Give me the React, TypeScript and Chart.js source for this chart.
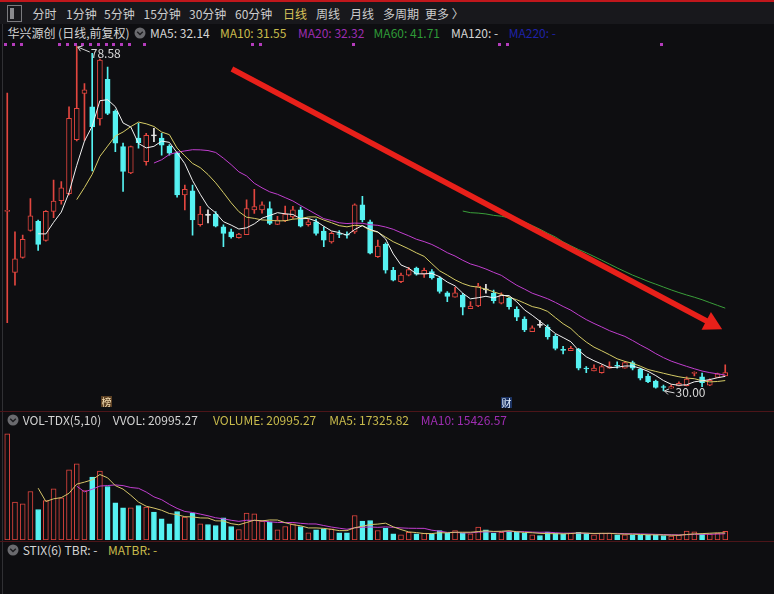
import React, { useEffect, useRef } from "react";
import { Chart, registerables } from "chart.js";

Chart.register(...registerables);

// ---------- data ----------
const OPEN = [
  55.3, 46.7, 48.8, 52.6, 53.9, 51.2, 55.3, 56.8, 57.8, 65.4,
  71.9, 70.0, 68.3, 73.9, 69.4, 64.4, 60.7, 65.6, 62.3, 66.0,
  65.6, 64.5, 63.5, 57.6, 58.2, 53.4, 54.8, 54.9, 53.1, 52.4,
  51.6, 52.0, 55.5, 55.5, 55.7, 53.45, 53.97, 54.5, 55.5, 53.4,
  53.8, 52.5, 51.0, 52.15, 52.05, 52.4, 56.2, 53.8, 48.9, 50.65,
  47.0, 45.4, 46.3, 47.3, 46.45, 46.8, 45.9, 43.8, 43.2, 43.5,
  41.6, 41.96, 44.3, 43.75, 42.35, 43.05, 41.5, 40.1, 38.35, 39.3,
  38.95, 37.7, 35.8, 35.65, 35.88, 33.2, 32.8, 32.58, 33.2, 33.6,
  33.2, 33.99, 33.06, 32.1, 31.4, 30.6, 30.4, 30.7, 30.75, 32.5,
  32.0, 30.8, 31.9, 32.1,
];
const HIGH = [
  71.96, 52.4, 51.96, 57.1, 54.07, 55.4, 59.7, 59.5, 70.03, 78.58,
  73.3, 77.55, 76.75, 75.6, 69.6, 64.9, 64.5, 67.7, 66.3, 67.0,
  66.3, 64.7, 63.65, 59.0, 59.0, 56.0, 55.5, 55.25, 53.4, 52.8,
  52.2, 56.9, 58.4, 56.65, 56.65, 54.6, 56.05, 56.0, 55.9, 54.2,
  54.2, 53.1, 52.4, 52.6, 52.4, 56.35, 57.4, 54.07, 51.25, 50.85,
  47.4, 46.6, 47.4, 47.45, 47.3, 47.1, 46.1, 43.98, 44.6, 43.75,
  42.57, 45.15, 45.0, 44.2, 43.8, 43.2, 41.86, 40.45, 39.15, 39.9,
  39.3, 37.98, 36.28, 36.28, 36.0, 33.43, 33.66, 33.66, 34.1, 34.1,
  34.13, 34.2, 33.2, 32.4, 31.54, 30.83, 30.84, 31.27, 31.98, 32.7,
  32.5, 31.7, 32.5, 33.66,
];
const LOW = [
  39.6, 44.9, 48.7, 52.5, 49.8, 51.1, 54.4, 56.3, 57.6, 65.2,
  65.3, 61.0, 67.45, 68.9, 63.7, 58.1, 60.6, 64.2, 61.8, 65.1,
  63.2, 63.2, 57.3, 55.5, 51.95, 53.2, 53.65, 53.1, 50.3, 51.5,
  51.5, 52.0, 55.0, 55.05, 53.4, 53.4, 53.84, 54.3, 53.1, 53.2,
  51.95, 50.3, 50.8, 51.6, 51.5, 52.2, 53.8, 49.3, 48.8, 46.6,
  45.5, 45.25, 46.2, 46.3, 46.0, 45.75, 43.75, 42.57, 43.2, 40.7,
  41.6, 41.86, 43.75, 42.35, 42.25, 41.5, 39.9, 38.35, 38.35, 38.95,
  37.27, 35.77, 35.2, 35.65, 32.96, 32.58, 32.8, 32.5, 33.2, 33.2,
  33.2, 32.96, 31.54, 31.17, 30.38, 30.0, 30.4, 30.7, 30.7, 32.1,
  30.6, 30.75, 31.9, 32.1,
];
const CLOSE = [
  55.4, 48.6, 51.36, 54.65, 50.65, 55.3, 56.75, 58.6, 68.4, 69.8,
  72.4, 67.2, 76.6, 69.1, 64.9, 60.9, 64.4, 64.96, 66.0, 66.0,
  64.6, 63.5, 57.6, 58.4, 54.1, 54.9, 54.8, 53.2, 52.2, 51.7,
  52.1, 55.7, 55.95, 56.2, 53.6, 54.07, 54.9, 55.5, 53.2, 53.8,
  52.2, 51.25, 52.2, 52.05, 51.95, 56.2, 54.07, 49.4, 50.4, 47.0,
  45.6, 46.3, 47.1, 46.45, 47.0, 45.9, 44.0, 43.3, 43.8, 41.8,
  41.96, 44.78, 44.3, 42.7, 43.5, 41.86, 40.4, 38.6, 38.9, 39.3,
  37.6, 36.0, 35.75, 36.0, 33.2, 33.1, 33.2, 33.43, 33.43, 33.5,
  33.99, 33.2, 31.8, 31.3, 30.5, 30.5, 30.6, 31.08, 31.65, 32.58,
  31.16, 31.5, 32.4, 32.58,
];
const VOLUME = [
  260000, 92600, 88700, 118800, 74700, 96800, 125400, 103400, 172000, 186700,
  121300, 153900, 168600, 131000, 91000, 78900, 78900, 84500, 80400, 68200,
  51900, 39600, 69800, 55900, 65700, 39600, 38000, 35500, 54300, 33000,
  25700, 65700, 64100, 46100, 43700, 24900, 33000, 39600, 33000, 17600,
  24900, 27400, 27400, 17600, 17600, 60000, 46100, 47800, 23300, 28900,
  15200, 12700, 19000, 15200, 16700, 15200, 23300, 16700, 23300, 16700,
  15200, 31400, 25000, 16700, 19000, 21600, 19000, 16700, 12700, 11000,
  19500, 16700, 15200, 16700, 19000, 16700, 12700, 16700, 16700, 12700,
  12700, 12700, 12700, 12700, 12700, 11000, 9500, 12000, 22000, 20000,
  14500, 14500, 16600, 20995.27,
];
const DAYS = OPEN.map((_, i) => `D${i + 1}`);

const PRICE_MIN = 27.31;
const PRICE_MAX = 79.43;
const VOL_MAX = 279300;
const MARKER_DAYS = [0, 1, 2, 7, 8, 9, 10, 11, 12, 13, 14, 15, 16, 18, 32, 33, 45, 64, 65, 85];
const TREND_FROM = [29.1, 75.34];
const TREND_TO = [92.6, 38.68];

const TOOLBAR = [
  { t: "分时", x: 32.5 },
  { t: "1分钟", x: 66 },
  { t: "5分钟", x: 104 },
  { t: "15分钟", x: 143.5 },
  { t: "30分钟", x: 189 },
  { t: "60分钟", x: 235 },
  { t: "日线", x: 283, on: true },
  { t: "周线", x: 316 },
  { t: "月线", x: 350 },
  { t: "多周期", x: 383 },
  { t: "更多 〉", x: 425 },
];

// ---------- styles ----------
const BG = "#0e0e11";
const UP = "#e2463f";
const DOWN = "#56f2f2";
const FLAT = "#ececec";
const FONT = '"Noto Sans CJK SC", "Microsoft YaHei", sans-serif';
const PAD = { left: 3.4, right: 44.9, top: 0, bottom: 0 };

function movingAverage(src: number[], n: number): (number | null)[] {
  return src.map((_, i) => {
    if (i < n - 1) return null;
    let s = 0;
    for (let k = i - n + 1; k <= i; k++) s += src[k];
    return s / n;
  });
}

function candleColor(i: number) {
  if (CLOSE[i] > OPEN[i]) return UP;
  if (CLOSE[i] < OPEN[i]) return DOWN;
  return FLAT;
}

const annotate = {
  id: "annotate",
  afterDatasetsDraw(chart: any) {
    const { ctx, chartArea, scales } = chart;
    const xs = scales.x;
    const ys = scales.y;
    ctx.save();
    // event markers
    ctx.fillStyle = "#b43cbc";
    MARKER_DAYS.forEach((d) => {
      ctx.fillRect(Math.round(xs.getPixelForValue(d)) - 3, chartArea.top + 3, 3, 3);
    });
    // highest / lowest labels
    let hi = 0;
    let lo = 0;
    HIGH.forEach((v, i) => { if (v > HIGH[hi]) hi = i; });
    LOW.forEach((v, i) => { if (v < LOW[lo]) lo = i; });
    ctx.strokeStyle = "#d8d8d8";
    ctx.fillStyle = "#d8d8d8";
    ctx.lineWidth = 1;
    ctx.font = `12px ${FONT}`;
    ctx.textBaseline = "middle";
    ctx.textAlign = "left";
    const drawPtr = (px: number, py: number, tx: number, ty: number) => {
      ctx.beginPath();
      ctx.moveTo(px, py);
      ctx.lineTo(tx, ty);
      ctx.stroke();
      const a = Math.atan2(ty - py, tx - px);
      ctx.beginPath();
      ctx.moveTo(px + 5 * Math.cos(a - 0.6), py + 5 * Math.sin(a - 0.6));
      ctx.lineTo(px, py);
      ctx.lineTo(px + 5 * Math.cos(a + 0.6), py + 5 * Math.sin(a + 0.6));
      ctx.stroke();
    };
    const hx = xs.getPixelForValue(hi);
    const hy = ys.getPixelForValue(HIGH[hi]);
    drawPtr(hx + 1, hy + 1, hx + 13, hy + 6);
    ctx.fillText(HIGH[hi].toFixed(2), hx + 14, hy + 7);
    const lx = xs.getPixelForValue(lo);
    const ly = ys.getPixelForValue(LOW[lo]);
    drawPtr(lx + 1, ly, lx + 11, ly + 2);
    ctx.fillText(LOW[lo].toFixed(2), lx + 12, ly + 2);
    // trend arrow
    const x1 = xs.getPixelForValue(TREND_FROM[0]);
    const y1 = ys.getPixelForValue(TREND_FROM[1]);
    const x2 = xs.getPixelForValue(TREND_TO[0]);
    const y2 = ys.getPixelForValue(TREND_TO[1]);
    const len = Math.hypot(x2 - x1, y2 - y1);
    const ux = (x2 - x1) / len;
    const uy = (y2 - y1) / len;
    const headL = 18;
    const headW = 10;
    const bx = x2 - ux * headL;
    const by = y2 - uy * headL;
    ctx.strokeStyle = "#e8201a";
    ctx.fillStyle = "#e8201a";
    ctx.lineWidth = 5.5;
    ctx.lineCap = "butt";
    ctx.beginPath();
    ctx.moveTo(x1, y1);
    ctx.lineTo(bx + ux * 2, by + uy * 2);
    ctx.stroke();
    ctx.beginPath();
    ctx.moveTo(x2, y2);
    ctx.lineTo(bx - uy * headW, by + ux * headW);
    ctx.lineTo(bx + uy * headW, by - ux * headW);
    ctx.closePath();
    ctx.fill();
    ctx.restore();
  },
};

function Txt({ x, y, c, children }: { x: number; y: number; c: string; children: any }) {
  return (
    <div
      style={{
        position: "absolute",
        left: x,
        top: y - 7,
        color: c,
        fontSize: 12,
        lineHeight: "14px",
        whiteSpace: "nowrap",
      }}
    >
      {children}
    </div>
  );
}

function Knob({ x, y }: { x: number; y: number }) {
  return (
    <svg style={{ position: "absolute", left: x, top: y - 6 }} width={12} height={12}>
      <circle cx={6} cy={6} r={5.5} fill="#6a6a6e" />
      <polyline points="3.2,4.8 6,7.6 8.8,4.8" fill="none" stroke="#1c1c1f" strokeWidth={1.4} />
    </svg>
  );
}

export default function App() {
  const priceRef = useRef<HTMLCanvasElement>(null);
  const volRef = useRef<HTMLCanvasElement>(null);

  useEffect(() => {
    const colors = DAYS.map((_, i) => candleColor(i));
    const bodies = DAYS.map((_, i) => {
      const o = OPEN[i];
      const c = CLOSE[i];
      if (Math.abs(c - o) < 0.12) {
        const m = (o + c) / 2;
        return [m - 0.07, m + 0.07];
      }
      return [o, c];
    });
    const wicks = DAYS.map((_, i) => [LOW[i], HIGH[i]]);
    const line = (label: string, data: (number | null)[], color: string) => ({
      type: "line" as const,
      label,
      data,
      borderColor: color,
      borderWidth: 1,
      pointRadius: 0,
      tension: 0,
      fill: false,
      order: 0,
    });

    const price = new Chart(priceRef.current!, {
      type: "bar",
      data: {
        labels: DAYS,
        datasets: [
          line("MA5", movingAverage(CLOSE, 5), "#f2f2f2"),
          line("MA10", movingAverage(CLOSE, 10), "#d6cc66"),
          line("MA20", movingAverage(CLOSE, 20), "#c23fd0"),
          line("MA60", movingAverage(CLOSE, 60), "#3a9f3a"),
          {
            type: "bar",
            label: "body",
            data: bodies as any,
            backgroundColor: colors.map((c) => (c === UP ? BG : c)),
            borderColor: colors,
            borderWidth: 1,
            borderSkipped: false,
            barThickness: 5,
            grouped: false,
            order: 1,
          } as any,
          {
            type: "bar",
            label: "wick",
            data: wicks as any,
            backgroundColor: colors,
            borderWidth: 0,
            barThickness: 1,
            grouped: false,
            order: 2,
          } as any,
        ],
      },
      options: {
        animation: false,
        responsive: false,
        devicePixelRatio: 1,
        events: [],
        layout: { padding: PAD },
        plugins: { legend: { display: false }, tooltip: { enabled: false } },
        scales: {
          x: { type: "category", offset: true, display: false, grid: { display: false } },
          y: { type: "linear", min: PRICE_MIN, max: PRICE_MAX, display: false },
        },
      },
      plugins: [annotate],
    });

    const volColors = DAYS.map((_, i) => (CLOSE[i] > OPEN[i] ? UP : DOWN));
    const vol = new Chart(volRef.current!, {
      type: "bar",
      data: {
        labels: DAYS,
        datasets: [
          line("VMA5", movingAverage(VOLUME, 5), "#d6c56a"),
          line("VMA10", movingAverage(VOLUME, 10), "#c23fd0"),
          {
            type: "bar",
            label: "VOLUME",
            data: VOLUME,
            backgroundColor: volColors.map((c) => (c === UP ? BG : c)),
            borderColor: volColors,
            borderWidth: 1,
            borderSkipped: false,
            barThickness: 5,
            grouped: false,
            order: 1,
          } as any,
        ],
      },
      options: {
        animation: false,
        responsive: false,
        devicePixelRatio: 1,
        events: [],
        layout: { padding: PAD },
        plugins: { legend: { display: false }, tooltip: { enabled: false } },
        scales: {
          x: { type: "category", offset: true, display: false, grid: { display: false } },
          y: { type: "linear", min: 0, max: VOL_MAX, display: false },
        },
      },
    });

    return () => {
      price.destroy();
      vol.destroy();
    };
  }, []);

  return (
    <div
      style={{
        position: "fixed",
        left: 0,
        top: 0,
        width: 774,
        height: 594,
        background: BG,
        overflow: "hidden",
        fontFamily: FONT,
      }}
    >
      {/* toolbar */}
      <div style={{ position: "absolute", left: 0, top: 0, width: 774, height: 24, background: "#18181c" }} />
      <div style={{ position: "absolute", left: 0, top: 0, width: 774, height: 2, background: "#c0171c" }} />
      <div
        style={{
          position: "absolute",
          left: 7,
          top: 5,
          width: 13,
          height: 15,
          border: "1px solid #7a7a7e",
        }}
      />
      <div style={{ position: "absolute", left: 10, top: 8, width: 4, height: 11, background: "#8a8a8e" }} />
      {TOOLBAR.map((b) => (
        <Txt key={b.t} x={b.x} y={13.5} c={b.on ? "#d9c25a" : "#cdcdcd"}>
          {b.t}
        </Txt>
      ))}

      {/* price header */}
      <Txt x={7.4} y={32.5} c="#d4d4d4">华兴源创 (日线,前复权)</Txt>
      <Knob x={134} y={32.5} />
      <Txt x={150} y={32.5} c="#d4d4d4">MA5: 32.14</Txt>
      <Txt x={220} y={32.5} c="#c9bb4c">MA10: 31.55</Txt>
      <Txt x={298} y={32.5} c="#9d2db0">MA20: 32.32</Txt>
      <Txt x={373.6} y={32.5} c="#2f9a38">MA60: 41.71</Txt>
      <Txt x={451} y={32.5} c="#d4d4d4">MA120: -</Txt>
      <Txt x={508.7} y={32.5} c="#1f22a8">MA220: -</Txt>

      {/* left frame line */}
      <div style={{ position: "absolute", left: 2, top: 24, width: 1, height: 570, background: "#303034" }} />

      <canvas
        ref={priceRef}
        width={774}
        height={370}
        style={{ position: "absolute", left: 0, top: 40, width: 774, height: 370 }}
      />

      {/* date tags */}
      <div
        style={{
          position: "absolute",
          left: 101,
          top: 396,
          width: 11,
          height: 11,
          background: "#5c4023",
          color: "#f3dcb0",
          fontSize: 10,
          lineHeight: "11px",
          textAlign: "center",
        }}
      >
        榜
      </div>
      <div
        style={{
          position: "absolute",
          left: 501,
          top: 397,
          width: 11,
          height: 11,
          background: "#1b3262",
          color: "#e6f2ff",
          fontSize: 10,
          lineHeight: "11px",
          textAlign: "center",
        }}
      >
        财
      </div>

      {/* separators */}
      <div style={{ position: "absolute", left: 0, top: 411, width: 774, height: 1, background: "#4c1519" }} />
      <div style={{ position: "absolute", left: 0, top: 541, width: 774, height: 1, background: "#4c1519" }} />

      {/* volume header */}
      <Knob x={6.5} y={420} />
      <Txt x={22.7} y={420} c="#d4d4d4">VOL-TDX(5,10)</Txt>
      <Txt x={112.7} y={420} c="#d4d4d4">VVOL: 20995.27</Txt>
      <Txt x={213} y={420} c="#c9bb4c">VOLUME: 20995.27</Txt>
      <Txt x={329.3} y={420} c="#c9bb4c">MA5: 17325.82</Txt>
      <Txt x={420.7} y={420} c="#9d2db0">MA10: 15426.57</Txt>

      <canvas
        ref={volRef}
        width={774}
        height={114}
        style={{ position: "absolute", left: 0, top: 426, width: 774, height: 114 }}
      />

      {/* STIX header */}
      <Knob x={6.5} y={550} />
      <Txt x={22.7} y={550} c="#d4d4d4">STIX(6) TBR: -</Txt>
      <Txt x={108} y={550} c="#c9bb4c">MATBR: -</Txt>
    </div>
  );
}
